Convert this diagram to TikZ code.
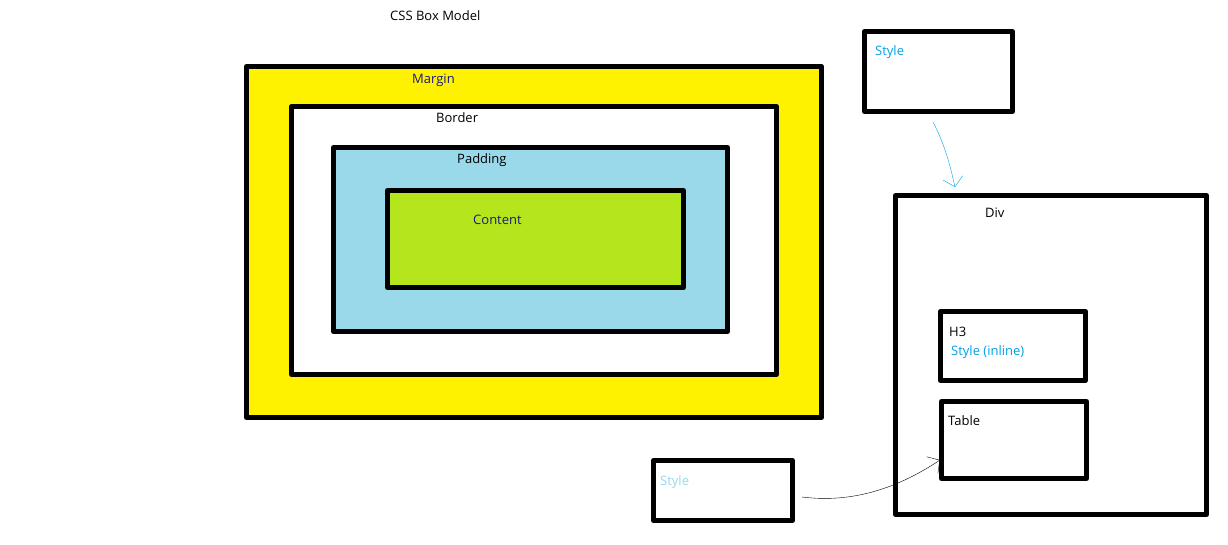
\documentclass[tikz,border=0pt]{standalone}
\usepackage{fontspec}
\setmainfont{Open Sans}
\usetikzlibrary{arrows.meta,positioning}
\definecolor{paintyellow}{RGB}{255,242,0}
\definecolor{paintsky}{RGB}{153,217,234}
\definecolor{paintlime}{RGB}{181,230,29}
\definecolor{paintcyan}{RGB}{0,162,232}
\definecolor{paintnavy}{RGB}{25,25,125}
\begin{document}
\begin{tikzpicture}[x=1pt, y=-1pt, line join = round, line cap = round,
		box/.style = {draw, line width=5pt, inner sep=0pt},
		lbl/.style = {inner sep=0pt, anchor=base west, font=\fontsize{13}{15}\selectfont},
		hand/.style = {thin, -{Straight Barb[length=9pt, width=20pt]}}]
			\useasboundingbox (0,0) rectangle (1228,545);
			%Các hộp (tên/tâm x/tâm y/rộng/cao/màu)
			\foreach \n/\cx/\cy/\w/\h/\c in {margin/534/242/575/351/paintyellow,
				border/534/240.5/485/268/white, padding/530.5/239.5/394/184/paintsky,
				content/535.5/239/296/97/paintlime, styleA/938.5/71.5/148/80/white,
				div/1051/355/311/319/white, hthree/1013/346/145/69/white,
				table/1014/440/145/77/white, styleB/723/490.5/139/60/white}
			\node[box, fill=\c, minimum width=\w pt, minimum height=\h pt] (\n) at (\cx,\cy) {};
			%Các nhãn
			\node[lbl] (title) at (390,21) {CSS Box Model};
			\node[lbl, text=paintnavy] (lblMargin) at (412,84) {Margin};
			\node[lbl] (lblBorder) at (436,123) {Border};
			\node[lbl] (lblPadding) at (457,164) {Padding};
			\node[lbl, text=paintnavy] (lblContent) at (473,225) {Content};
			\node[lbl, text=paintcyan] (lblStyleA) at (875,56) {Style};
			\node[lbl] (lblDiv) at (985,218) {Div};
			\node[lbl] (lblHthree) at (949,336) {H3};
			\node[lbl, text=paintcyan] (lblInline) at (951,355) {Style (inline)};
			\node[lbl] (lblTable) at (948,425) {Table};
			\node[lbl, text=paintsky] (lblStyleB) at (660,485) {Style};
			%Các mũi tên
			\coordinate (a0) at ([xshift=-5.5pt, yshift=-8pt]styleA.south);
			\coordinate (a1) at ([xshift=-96pt, yshift=6pt]div.north);
			\draw[hand, paintcyan] (a0) .. controls (945,145) and (950,165) .. (a1);
			\coordinate (b0) at ([xshift=7pt, yshift=-6.5pt]styleB.east);
			\coordinate (b1) at ([xshift=1pt, yshift=-20pt]table.west);
			\draw[hand, black] (b0) .. controls (850,503) and (895,490) .. (b1);
		\end{tikzpicture}
\end{document}
